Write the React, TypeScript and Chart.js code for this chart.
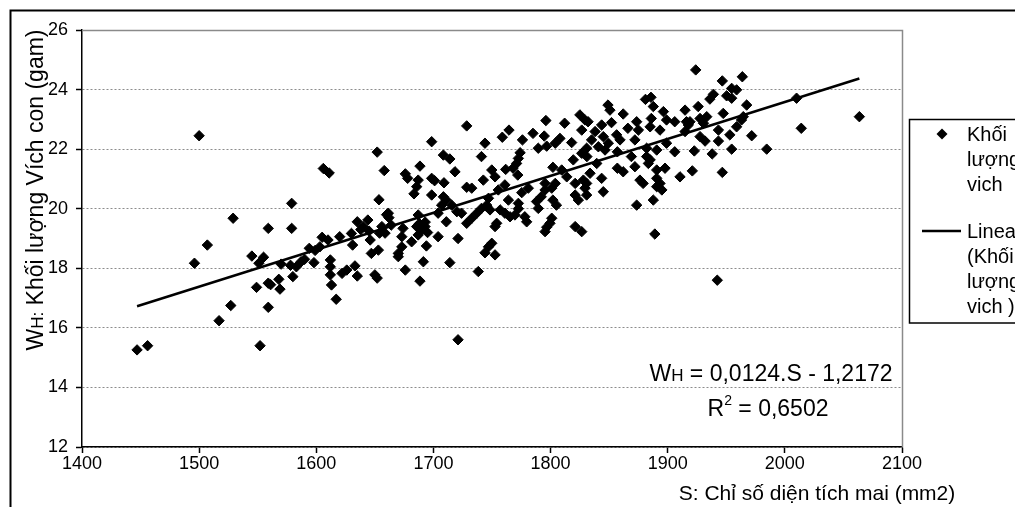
import React, { useEffect, useRef } from "react";
import { Chart, registerables } from "chart.js";

Chart.register(...registerables);

const FONT = '"Liberation Sans", Arial, Helvetica, sans-serif';

// Axis ticks
const xTickValues = [1400, 1500, 1600, 1700, 1800, 1900, 2000, 2100];
const yTickValues = [12, 14, 16, 18, 20, 22, 24, 26];

// Labels
const seriesName = ["Khối", "lượng", "vich"];
const trendName = ["Linear", "(Khối", "lượng", "vich )"];
const xTitle = "S: Chỉ số diện tích mai (mm2)";
const yTitleMain = "W";
const yTitleSub = "H:";
const yTitleRest = " Khối lượng Vích con (gam)";

// Regression shown on the chart
const trendSlope = 0.0124;
const trendIntercept = -1.2172;
const eqText = "= 0,0124.S - 1,2172";
const r2Text = "= 0,6502";

// Observations [S (mm2), W (gam)] — left, sparse part
const samplesLeft: [number, number][] = [
  [1447, 15.26], [1456, 15.4], [1496, 18.17], [1500, 22.45], [1507, 18.78],
  [1517, 16.24], [1527, 16.75], [1529, 19.68], [1545, 18.41], [1549, 17.36],
  [1551, 18.17], [1552, 15.4], [1555, 18.37], [1559, 19.34], [1559, 17.5],
  [1559, 16.69], [1561, 17.45], [1568, 17.63], [1569, 17.3], [1570, 18.14],
  [1578, 18.1], [1579, 20.18], [1579, 19.34], [1580, 17.72], [1583, 18.05],
  [1587, 18.22], [1590, 18.3], [1594, 18.67], [1598, 18.19], [1599, 18.6],
  [1603, 18.72], [1605, 19.04], [1606, 21.35], [1610, 18.95], [1611, 21.2],
  [1612, 18.28], [1612, 18.05], [1612, 17.78], [1613, 17.44], [1617, 16.96],
  [1620, 19.06], [1622, 17.83], [1626, 17.94], [1630, 19.17], [1631, 18.78],
  [1633, 18.08], [1635, 17.74], [1635, 19.56], [1638, 19.3], [1640, 19.4],
  [1644, 19.62], [1645, 19.25], [1646, 18.95], [1647, 18.5], [1650, 17.78],
  [1652, 17.67], [1652, 21.9], [1653, 18.61], [1653.5, 20.3], [1654, 19.18],
  [1656, 19.4], [1658, 21.28], [1660, 19.8],
];

// Observations — 1658 to 1747
const samplesMidA: [number, number][] = [
  [1658.7, 19.18], [1661.5, 19.85], [1662, 19.7], [1664, 19.45], [1670, 18.5],
  [1670, 18.39], [1673, 19.06], [1673, 18.72], [1674, 19.34], [1676, 21.17],
  [1676, 17.94], [1678, 21.02], [1681.4, 18.89], [1683.4, 20.5], [1685.7, 20.74],
  [1685.7, 19.4], [1687, 20.96], [1687, 19.79], [1687, 19.12], [1688.5, 21.43],
  [1688.5, 17.57], [1688, 19.5], [1690, 19.29], [1691.4, 18.22], [1692.8, 19.4],
  [1693, 19.55], [1694, 18.75], [1695, 19.2], [1698.5, 22.25], [1698.5, 21.02],
  [1698.5, 20.46], [1701, 20.94], [1704, 19.85], [1704, 19.06], [1707, 20.12],
  [1708.5, 21.8], [1708.5, 20.4], [1709, 20.87], [1711, 20.29], [1711, 19.56],
  [1714, 21.67], [1714, 18.19], [1715.6, 20.12], [1718.4, 21.24], [1720, 19.9],
  [1721, 19.0], [1721, 15.6], [1724, 19.85], [1728.4, 22.78], [1728.4, 20.72],
  [1728.4, 19.51], [1732.7, 20.69], [1732.7, 19.68], [1737, 19.85], [1738.3, 17.89],
  [1741, 21.75], [1741, 20.01], [1742.6, 20.96], [1744, 22.2], [1744, 18.52],
  [1745.5, 20.12], [1747, 18.72],
];

// Observations — 1745 to 1831
const samplesMidB: [number, number][] = [
  [1745.5, 20.07], [1747, 20.35], [1748.3, 19.96], [1749.8, 21.3], [1749.8, 18.84],
  [1752.6, 21.07], [1752.6, 19.4], [1752.6, 18.45], [1754, 19.51], [1755.4, 20.63],
  [1757, 19.96], [1758.8, 22.4], [1761, 20.8], [1761, 19.85], [1761.7, 21.32],
  [1764, 20.29], [1764.5, 22.64], [1765.4, 19.73], [1768, 21.36], [1769.6, 19.79],
  [1771, 21.52], [1772, 21.13], [1772.5, 21.69], [1772.5, 20.18], [1772.5, 20.0],
  [1774, 21.88], [1775.4, 20.54], [1776, 22.31], [1778, 19.73], [1779.6, 19.56],
  [1781, 20.69], [1785, 22.53], [1788, 20.24], [1789.5, 22.03], [1789.5, 20.01],
  [1792, 20.4], [1794.6, 22.44], [1795.3, 20.85], [1795.3, 20.63], [1795.3, 19.23],
  [1796, 22.96], [1796.7, 22.1], [1796.7, 19.38], [1799.5, 19.51], [1801, 20.69],
  [1801, 19.68], [1802, 21.39], [1802, 20.29], [1804, 22.2], [1804, 20.85],
  [1805, 20.12], [1808, 22.36], [1809.5, 21.3], [1812, 22.87], [1813.8, 21.07],
  [1818, 22.22], [1819.4, 21.64], [1821, 20.85], [1821, 20.46], [1821, 19.4],
  [1823.7, 20.29], [1825, 23.15], [1826.6, 22.64], [1826.6, 21.86], [1826.6, 19.23],
  [1828, 20.96], [1829.4, 22.98], [1829.4, 20.69], [1831, 21.75],
];

// Observations — 1830 to 1916
const samplesMidC: [number, number][] = [
  [1830.8, 22.03], [1830.8, 20.85], [1830.8, 20.46], [1832, 22.92], [1833.7, 21.19],
  [1835, 22.31], [1838, 22.59], [1839.4, 21.52], [1840.8, 22.08], [1843.6, 22.81],
  [1843.6, 21.02], [1845, 22.42], [1845, 20.57], [1846.5, 21.97], [1849, 23.48],
  [1849.3, 22.2], [1850.7, 23.31], [1852, 22.89], [1856.4, 22.48], [1857, 21.91],
  [1857, 21.36], [1859.3, 22.31], [1862, 23.18], [1862, 21.24], [1866, 22.7],
  [1869, 21.75], [1872, 22.31], [1872, 21.41], [1873.5, 22.92], [1873.5, 20.12],
  [1875, 22.64], [1876.3, 20.96], [1879, 20.85], [1881, 23.67], [1882, 22.03],
  [1882, 21.75], [1883.5, 21.52], [1885, 22.75], [1885, 21.64], [1885.7, 23.74],
  [1886, 23.03], [1887.7, 23.43], [1887.7, 20.29], [1889, 19.15], [1890.6, 21.97],
  [1890.6, 21.3], [1890.6, 21.02], [1890.6, 20.74], [1893.4, 22.64], [1893.4, 20.85],
  [1895, 20.63], [1896.3, 23.26], [1897.7, 21.36], [1899, 22.98], [1899, 22.2],
  [1906, 22.92], [1906, 21.91], [1910.5, 21.07], [1914.8, 22.59], [1916, 22.92],
];

// Observations — right part
const samplesRight: [number, number][] = [
  [1914.8, 23.31], [1917.6, 22.81], [1919, 22.92], [1921, 21.27], [1922.7, 21.94],
  [1923.9, 24.66], [1926, 23.43], [1927.6, 23.03], [1927.6, 22.42], [1930.5, 22.87],
  [1931.9, 22.27], [1933.3, 23.09], [1936, 23.68], [1938, 21.84], [1939, 23.84],
  [1942.3, 17.6], [1943.3, 22.64], [1943.3, 22.27], [1946.6, 24.29], [1946.6, 21.22],
  [1947.4, 23.2], [1950.3, 23.79], [1953, 22.48], [1954.6, 24.04], [1954.6, 23.71],
  [1954.6, 22.0], [1958.8, 23.99], [1958.8, 22.75], [1963, 22.98], [1963.7, 24.43],
  [1964.5, 23.09], [1967.4, 23.48], [1971.7, 22.45], [1984.5, 22.0], [2010, 23.71],
  [2014, 22.7], [2063.6, 23.09],
];

const allSamples = [...samplesLeft, ...samplesMidA, ...samplesMidB, ...samplesMidC, ...samplesRight];

function drawDiamond(ctx: CanvasRenderingContext2D, x: number, y: number, r: number) {
  ctx.beginPath();
  ctx.moveTo(x, y - r);
  ctx.lineTo(x + r, y);
  ctx.lineTo(x, y + r);
  ctx.lineTo(x - r, y);
  ctx.closePath();
  ctx.fill();
}

const decorPlugin = {
  id: "decor",
  afterDraw(chart: any) {
    const ctx: CanvasRenderingContext2D = chart.ctx;
    const { left, right, top, bottom } = chart.chartArea;
    ctx.save();

    // plot area top/right frame
    ctx.strokeStyle = "#8a8a8a";
    ctx.lineWidth = 1.5;
    ctx.beginPath();
    ctx.moveTo(left, top + 0.5);
    ctx.lineTo(right + 0.5, top + 0.5);
    ctx.lineTo(right + 0.5, bottom);
    ctx.stroke();

    // outer chart border
    ctx.strokeStyle = "#000";
    ctx.lineWidth = 2;
    ctx.beginPath();
    ctx.moveTo(10.5, 507);
    ctx.lineTo(10.5, 10.5);
    ctx.lineTo(1015, 10.5);
    ctx.stroke();

    ctx.fillStyle = "#000";
    ctx.textBaseline = "alphabetic";

    // Y axis title (rotated)
    const big = 23;
    const small = 17;
    ctx.save();
    ctx.translate(43, 190);
    ctx.rotate(-Math.PI / 2);
    ctx.font = `${big}px ${FONT}`;
    const wW = ctx.measureText(yTitleMain).width;
    const wR = ctx.measureText(yTitleRest).width;
    ctx.font = `${small}px ${FONT}`;
    const wS = ctx.measureText(yTitleSub).width;
    let cx = -(wW + wS + wR) / 2;
    ctx.font = `${big}px ${FONT}`;
    ctx.textAlign = "left";
    ctx.fillText(yTitleMain, cx, 0);
    cx += wW;
    ctx.font = `${small}px ${FONT}`;
    ctx.fillText(yTitleSub, cx, 0);
    cx += wS;
    ctx.font = `${big}px ${FONT}`;
    ctx.fillText(yTitleRest, cx, 0);
    ctx.restore();

    // X axis title
    ctx.font = `21px ${FONT}`;
    ctx.textAlign = "center";
    ctx.fillText(xTitle, 817, 500);

    // Equation
    ctx.textAlign = "left";
    ctx.font = `${big}px ${FONT}`;
    const eW = ctx.measureText("W").width;
    const eRest = ctx.measureText(" " + eqText).width;
    ctx.font = `${small}px ${FONT}`;
    const eH = ctx.measureText("H").width;
    let ex = 771 - (eW + eH + eRest) / 2;
    ctx.font = `${big}px ${FONT}`;
    ctx.fillText("W", ex, 381);
    ex += eW;
    ctx.font = `${small}px ${FONT}`;
    ctx.fillText("H", ex, 381);
    ex += eH;
    ctx.font = `${big}px ${FONT}`;
    ctx.fillText(" " + eqText, ex, 381);

    // R squared
    ctx.font = `${big}px ${FONT}`;
    const rW = ctx.measureText("R").width;
    const rRest = ctx.measureText(" " + r2Text).width;
    ctx.font = `${small - 3}px ${FONT}`;
    const r2W = ctx.measureText("2").width;
    let rx = 768 - (rW + r2W + rRest) / 2;
    ctx.font = `${big}px ${FONT}`;
    ctx.fillText("R", rx, 416);
    rx += rW;
    ctx.font = `${small - 3}px ${FONT}`;
    ctx.fillText("2", rx, 405);
    rx += r2W;
    ctx.font = `${big}px ${FONT}`;
    ctx.fillText(" " + r2Text, rx, 416);

    // Legend box
    ctx.strokeStyle = "#000";
    ctx.lineWidth = 1.5;
    ctx.strokeRect(909.5, 119.5, 200, 203.5);
    ctx.font = `20px ${FONT}`;
    ctx.textAlign = "left";
    drawDiamond(ctx, 942, 134, 5.5);
    seriesName.forEach((t, i) => ctx.fillText(t, 967, 141 + i * 25));
    ctx.lineWidth = 2.5;
    ctx.beginPath();
    ctx.moveTo(922, 231);
    ctx.lineTo(961, 231);
    ctx.stroke();
    trendName.forEach((t, i) => ctx.fillText(t, 967, 238 + i * 25));

    ctx.restore();
  },
};

export default function App() {
  const canvasRef = useRef<HTMLCanvasElement | null>(null);

  useEffect(() => {
    const canvas = canvasRef.current;
    if (!canvas) return;
    const xs = allSamples.map((p) => p[0]);
    const minS = Math.min(...xs);
    const maxS = Math.max(...xs);
    const trendPoints = [minS, maxS].map((s) => ({ x: s, y: trendSlope * s + trendIntercept }));

    const chart = new Chart(canvas, {
      type: "scatter",
      data: {
        datasets: [
          {
            type: "line",
            label: trendName.join(" "),
            data: trendPoints,
            borderColor: "#000",
            borderWidth: 2.5,
            pointRadius: 0,
            fill: false,
            order: 0,
          } as any,
          {
            type: "scatter",
            label: seriesName.join(" "),
            data: allSamples.map(([x, y]) => ({ x, y })),
            pointStyle: "rectRot",
            pointRadius: 5.2,
            pointBackgroundColor: "#000",
            pointBorderColor: "#000",
            pointBorderWidth: 1,
            order: 1,
          } as any,
        ],
      },
      options: {
        responsive: false,
        animation: false,
        devicePixelRatio: 1,
        layout: { padding: { left: 0, top: 30, right: 113, bottom: 0 } },
        plugins: { legend: { display: false }, tooltip: { enabled: false } },
        scales: {
          x: {
            type: "linear",
            min: xTickValues[0],
            max: xTickValues[xTickValues.length - 1],
            afterBuildTicks: (scale: any) => {
              scale.ticks = xTickValues.map((v) => ({ value: v }));
            },
            afterFit: (scale: any) => {
              scale.height = 60;
            },
            grid: {
              display: true,
              drawOnChartArea: false,
              drawTicks: true,
              tickLength: 6,
              tickColor: "#000",
              tickWidth: 1.5,
            },
            border: { display: true, color: "#000", width: 1.5 },
            ticks: {
              color: "#000",
              font: { family: FONT, size: 18 },
              padding: 0,
              maxRotation: 0,
              autoSkip: false,
              callback: (v: any) => String(v),
            },
          },
          y: {
            type: "linear",
            min: yTickValues[0],
            max: yTickValues[yTickValues.length - 1],
            afterBuildTicks: (scale: any) => {
              scale.ticks = yTickValues.map((v) => ({ value: v }));
            },
            afterFit: (scale: any) => {
              scale.width = 82;
            },
            grid: {
              display: true,
              drawOnChartArea: true,
              drawTicks: true,
              tickLength: 6,
              color: "#8c8c8c",
              lineWidth: 1,
              tickColor: "#000",
              tickWidth: 1.5,
              tickBorderDash: [],
            },
            border: { display: true, color: "#000", width: 1.5, dash: [2, 2] },
            ticks: {
              color: "#000",
              font: { family: FONT, size: 18 },
              padding: 8,
              autoSkip: false,
              callback: (v: any) => String(v),
            },
          },
        },
      } as any,
      plugins: [decorPlugin],
    });
    return () => chart.destroy();
  }, []);

  return (
    <div style={{ position: "absolute", left: 0, top: 0, width: 1015, height: 507, background: "#fff" }}>
      <canvas ref={canvasRef} width={1015} height={507} style={{ width: 1015, height: 507, display: "block" }} />
    </div>
  );
}
